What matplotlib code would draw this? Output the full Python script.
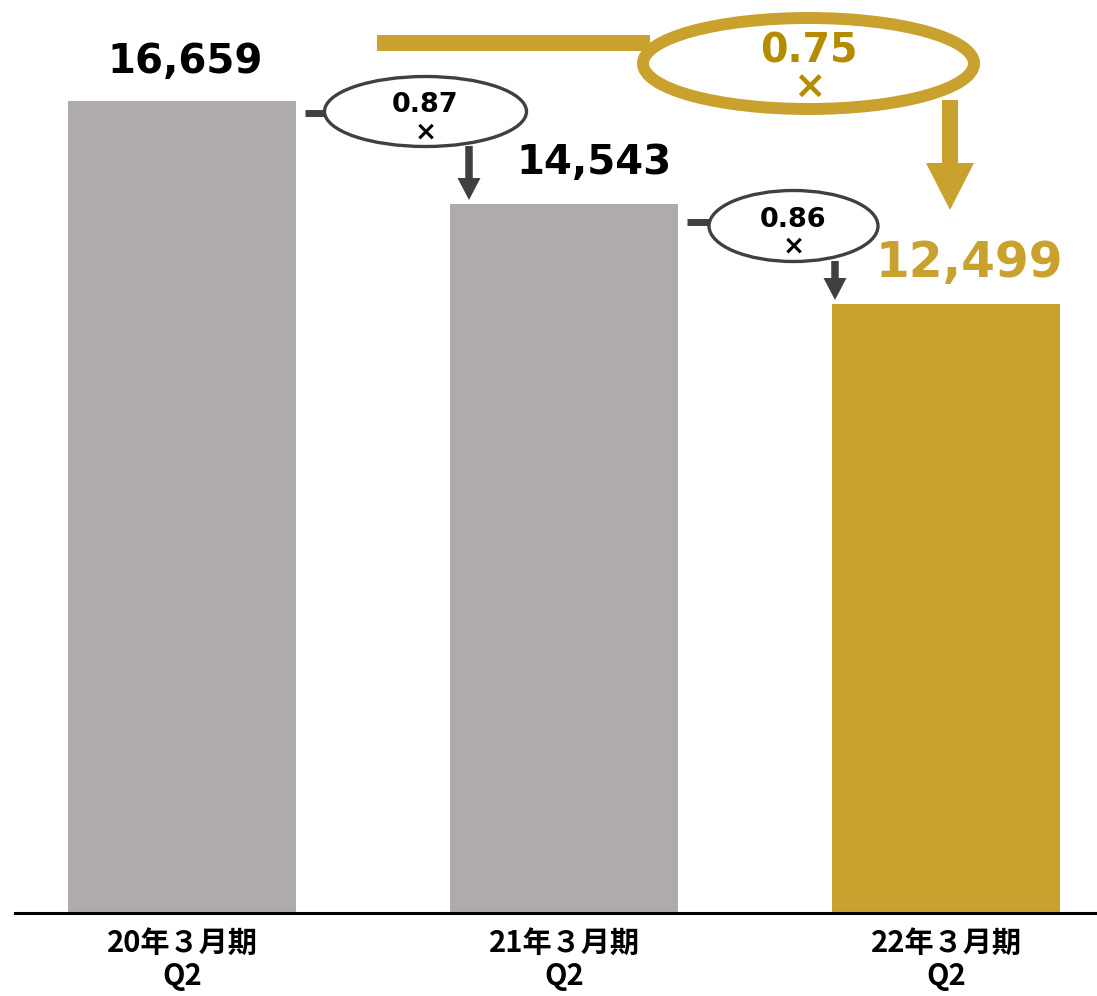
import matplotlib
matplotlib.use("Agg")
import matplotlib.pyplot as plt
from matplotlib.patches import Ellipse, FancyArrow

# データ
periods = ["20年３月期\nQ2", "21年３月期\nQ2", "22年３月期\nQ2"]
values = [16659, 14543, 12499]
ratios = ["0.87", "0.86"]
total_ratio = "0.75"

grey = "#AFABAB"
gold = "#C9A12F"
gold_dark = "#B58C00"
dark = "#404040"

W, H = 1097, 996
fig = plt.figure(figsize=(W / 100, H / 100), dpi=100)

# 棒グラフ本体
base_px = 913
top_val = base_px * values[0] / 812
ax = fig.add_axes([15 / W, 1 - base_px / H, (W - 15) / W, base_px / H])
x = list(range(len(values)))
colors = [grey, grey, gold]
ax.bar(x, values, width=228 / 382, color=colors)
ax.set_xlim((15 - 182) / 382, (W - 182) / 382)
ax.set_ylim(0, top_val)
for s in ["top", "right", "left"]:
    ax.spines[s].set_visible(False)
ax.spines["bottom"].set_linewidth(2.2)
ax.set_yticks([])
ax.set_xticks(x)
ax.set_xticklabels(periods, family=["Noto Sans CJK JP", "DejaVu Sans"],
                   fontsize=21, fontweight="bold", linespacing=1.12)
ax.tick_params(axis="x", length=0, pad=11)

# 数値ラベル
label_offsets = [(2, 20), (22, 21.5), (17, 19.5)]
label_sizes = [29, 29, 35]
label_colors = ["black", "black", gold]
for i, v in enumerate(values):
    ax.annotate(f"{v:,}", (i, v), xytext=label_offsets[i], textcoords="offset points",
                ha="center", va="baseline", fontsize=label_sizes[i],
                fontweight="bold", color=label_colors[i], family="DejaVu Sans")

# 注記（ピクセル座標のオーバーレイ）
ov = fig.add_axes([0, 0, 1, 1])
ov.set_xlim(0, W)
ov.set_ylim(H, 0)
ov.axis("off")

small = [
    # 楕円中心, 幅, 高さ, 接続線 x範囲, 接続線 y, 矢印 x, 矢印 y範囲
    dict(c=(425.5, 111.5), w=202, h=70, conn=(305, 324), cy=113, ax_=469, ay=(146, 200)),
    dict(c=(793.5, 226), w=169, h=71, conn=(687, 709), cy=222, ax_=835, ay=(261, 300)),
]
for r, s in zip(ratios, small):
    ov.plot(s["conn"], [s["cy"], s["cy"]], color=dark, lw=5, solid_capstyle="butt")
    ov.add_patch(FancyArrow(s["ax_"], s["ay"][0], 0, s["ay"][1] - s["ay"][0], width=7.5,
                            head_width=23, head_length=22, length_includes_head=True,
                            color=dark, lw=0))
    ov.add_patch(Ellipse(s["c"], s["w"], s["h"], facecolor="white", edgecolor=dark, lw=2.4))
    cx, cy = s["c"]
    ov.text(cx, cy + 0.5, r, ha="center", va="baseline", fontsize=19.5,
            fontweight="bold", color="black")
    ov.text(cx, cy + 21, "×", ha="center", va="center", fontsize=19,
            fontweight="bold", color="black")

# 全体の比率（金色）
ov.plot([377, 650], [43, 43], color=gold, lw=11.5, solid_capstyle="butt")
ov.add_patch(FancyArrow(950, 100, 0, 110, width=16, head_width=48, head_length=47,
                        length_includes_head=True, color=gold, lw=0))
ov.add_patch(Ellipse((808.5, 63.5), 331, 91, facecolor="white", edgecolor=gold, lw=8.6))
ov.text(809, 62, total_ratio, ha="center", va="baseline", fontsize=28.5,
        fontweight="bold", color=gold_dark)
ov.text(809, 88, "×", ha="center", va="center", fontsize=28,
        fontweight="bold", color=gold_dark)

fig.savefig("out.png", dpi=100)
